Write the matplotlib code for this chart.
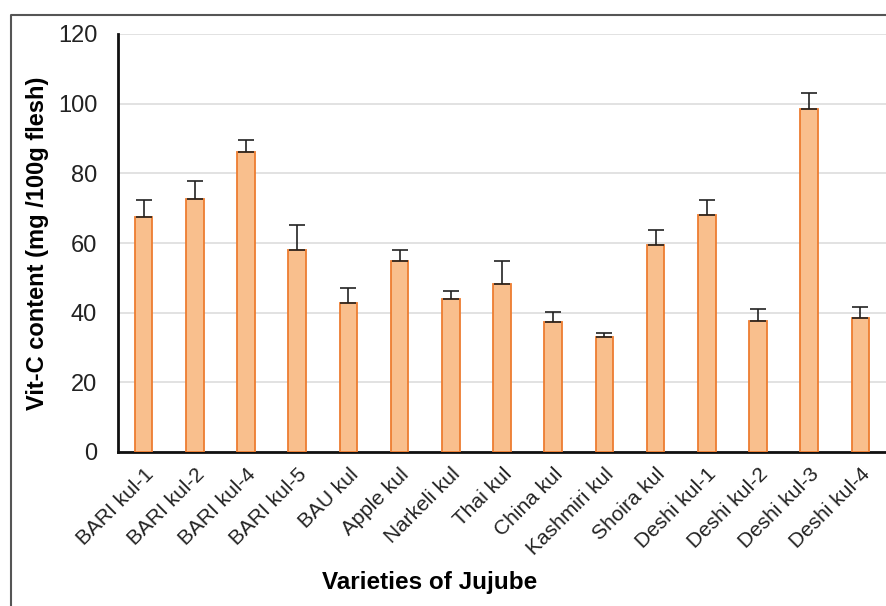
import matplotlib
matplotlib.use('Agg')
import matplotlib.pyplot as plt
from matplotlib.lines import Line2D

varieties = ['BARI kul-1', 'BARI kul-2', 'BARI kul-4', 'BARI kul-5', 'BAU kul',
             'Apple kul', 'Narkeli kul', 'Thai kul', 'China kul', 'Kashmiri kul',
             'Shoira kul', 'Deshi kul-1', 'Deshi kul-2', 'Deshi kul-3', 'Deshi kul-4']
vitc = [67.6, 72.6, 86.1, 57.9, 42.7, 54.9, 43.9, 48.1, 37.2, 33.0,
        59.5, 68.0, 37.6, 98.5, 38.5]
err = [4.7, 5.1, 3.5, 7.2, 4.3, 3.1, 2.3, 6.8, 2.9, 1.2,
       4.2, 4.3, 3.5, 4.6, 3.0]

plt.rcParams['font.family'] = ['Liberation Sans', 'DejaVu Sans']

fig = plt.figure(figsize=(8.86, 6.06), dpi=100)
ax = fig.add_axes([118/886, 1 - 452/606, 768/886, 418/606])

x = list(range(len(varieties)))
ax.bar(x, vitc, width=0.345, color='#F9BF8D', edgecolor='#ED7D31', linewidth=1.3, zorder=3)
ax.errorbar(x, vitc, yerr=[[0]*len(err), err], fmt='none', ecolor='#222222',
            elinewidth=1.2, capsize=6, capthick=1.2, zorder=4)

ax.set_xlim(-0.5, len(varieties) - 0.5)
ax.set_ylim(0, 120)
ax.set_yticks([0, 20, 40, 60, 80, 100, 120])
ax.yaxis.grid(True, color='#DDDDDD', linewidth=1.2, zorder=0)
ax.set_axisbelow(True)

for s in ['top', 'right']:
    ax.spines[s].set_visible(False)
ax.spines['left'].set_linewidth(2)
ax.spines['bottom'].set_linewidth(2)
ax.spines['left'].set_color('#111111')
ax.spines['bottom'].set_color('#111111')

ax.tick_params(axis='y', length=0, pad=15, labelsize=17, labelcolor='#222222')
ax.tick_params(axis='x', length=0, pad=9, labelsize=15, labelcolor='#222222')
ax.set_xticks(x)
ax.set_xticklabels(varieties, rotation=45, ha='right', rotation_mode='anchor')

ax.set_ylabel('Vit-C content (mg /100g flesh)', fontsize=17, fontweight='bold', labelpad=6)
fig.text(430/886, 1 - 583/606, 'Varieties of Jujube', fontsize=17.5, fontweight='bold',
         ha='center', va='center')

# outer chart border
fig.add_artist(Line2D([11/886, 11/886, 1], [0, 1 - 15/606, 1 - 15/606],
                      transform=fig.transFigure, color='#555555', linewidth=1.5))

fig.savefig('out.png', dpi=100)
